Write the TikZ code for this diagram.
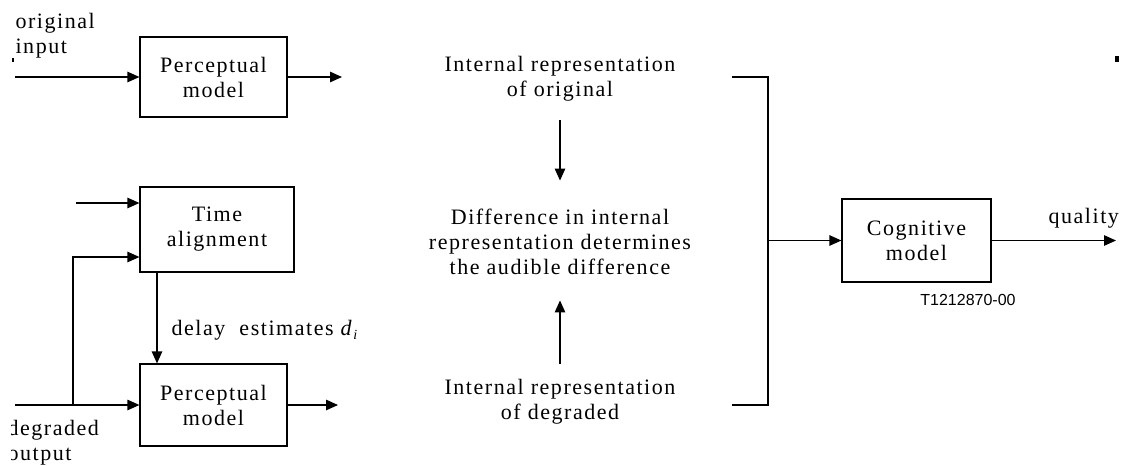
\documentclass[tikz,border=0pt]{standalone}
\usepackage{fontspec}
\setmainfont{Liberation Serif}[LetterSpace=7]
\newfontfamily\codefont{Liberation Sans}
\usetikzlibrary{arrows.meta}

\begin{document}
\begin{tikzpicture}[x=1pt,y=-1pt,
  line width=1.2pt,
  txt/.style={font=\fontsize{22}{25}\selectfont, inner sep=0pt, align=center},
  blk/.style={draw, txt},
  arr/.style={-{Triangle[length=12pt,width=10.5pt]}},
]
\useasboundingbox (0,0) rectangle (1128,466);

% processing blocks
\node[blk, minimum width=147pt, minimum height=80pt] (pm1) at (213.5,77) {Perceptual\\model};
\node[blk, minimum width=154pt, minimum height=85pt] (ta)  at (217,229.5) {Time\\alignment};
\node[blk, minimum width=147pt, minimum height=82pt] (pm2) at (213.5,405) {Perceptual\\model};
\node[blk, minimum width=149pt, minimum height=83pt] (cog) at (916.5,240.5) {Cognitive\\model};

% free text in the middle column
\node[txt] (ir1)  at (560,79)  {Internal representation\\of original};
\node[txt] (diff) at (560,242) {Difference in internal\\representation determines\\the audible difference};
\node[txt] (ir2)  at (560,402) {Internal representation\\of degraded};

% signal labels
\node[txt, align=left, anchor=north west] (lorig) at (15,13) {original\\input};
\begin{scope}
  \clip (11.5,410) rectangle (140,466);
  \node[txt, align=left, anchor=base west] (ldeg) at (7,435) {degraded};
  \node[txt, align=left, anchor=base west] (lout) at (7,460) {output};
\end{scope}
\node[txt, anchor=base west] (ldel) at (171,335)
  {delay\ \ estimates \textit{d}\raisebox{-4pt}{\fontsize{14}{14}\selectfont\textit{i}}};
\node[txt, anchor=base west] (lq) at (1048,223) {quality};
\node[inner sep=0pt, anchor=base, font=\codefont\fontsize{16}{18}\selectfont] (tag) at (968,305) {T1212870-00};

% stray marks
\fill (12,58) rectangle (14,61.5);
\fill (1115,56) rectangle (1119,62);

% end points of the signal lines
\coordinate (oin)  at (15,77);
\coordinate (din)  at (15,405);
\coordinate (tin)  at (76,203);
\coordinate (br)   at (73,405);
\coordinate (o1)   at (342,77);
\coordinate (o2)   at (338,405);
\coordinate (bt)   at (732,77);
\coordinate (bb)   at (732,405);
\coordinate (bm)   at (768,240.5);
\coordinate (qout) at (1116,240.5);

% left side
\draw[arr] (oin) -- (pm1.west);
\draw[arr] (din) -- (pm2.west);
\draw[arr] (tin) -- ([yshift=26.5pt]ta.west);
\draw[arr] (br) |- ([yshift=-27.5pt]ta.west);
\draw[arr] ([xshift=-60pt]ta.south) -- ([xshift=-56.5pt]pm2.north);
\draw[arr] (pm1.east) -- (o1);
\draw[arr] (pm2.east) -- (o2);

% middle column
\draw[arr] ([yshift=-18pt]ir1.south) -- ([yshift=28pt]diff.north);
\draw[arr] ([yshift=15pt]ir2.north) -- ([yshift=-25pt]diff.south);

% bracket into the cognitive model
\draw (bt) -- (bt -| bm) -- (bb -| bm) -- (bb);
\draw[arr] (bm) -- (cog.west);
\draw[arr] (cog.east) -- (qout);
\end{tikzpicture}
\end{document}
